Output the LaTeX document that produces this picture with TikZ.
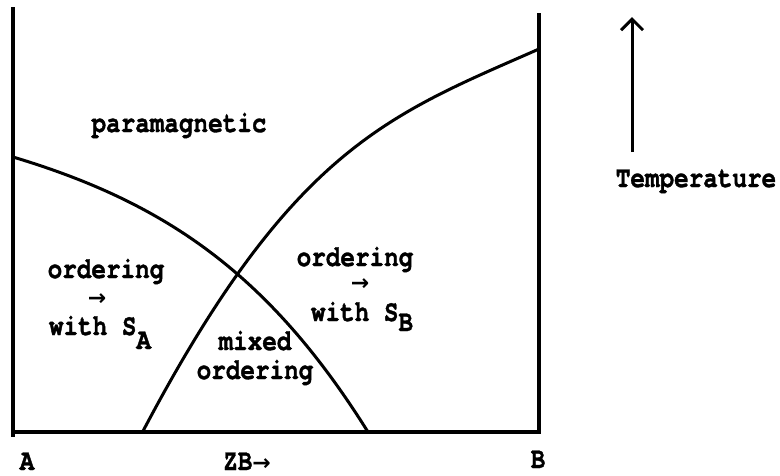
\documentclass[tikz,border=0pt]{standalone}
\usepackage{fontspec}
\newfontfamily\twfont{TeX Gyre Cursor}[FakeStretch=0.81,FakeBold=1.2]
\newfontfamily\arrfont{DejaVu Sans}
\usetikzlibrary{arrows.meta}
\begin{document}
\begin{tikzpicture}[x=1pt,y=-1pt,
  lbl/.style={inner sep=0pt, anchor=base, font=\twfont\bfseries\fontsize{30}{33}\selectfont},
  arr/.style={inner sep=0pt, font=\arrfont\bfseries\fontsize{22}{24}\selectfont},
  frame/.style={line width=3.5pt},
  curve/.style={line width=3pt},
  taxis/.style={line width=3pt, -{Straight Barb[length=11pt,width=22pt,line width=3pt]}}
]
\useasboundingbox (0,0) rectangle (780,475);
% frame
\coordinate (lt) at (13,7);
\coordinate (lb) at (13,437);
\coordinate (bl) at (13,432);
\coordinate (br) at (539,432);
\coordinate (rt) at (539,13);
\draw[frame] (lt) -- (lb);
\draw[frame] (bl) -- (br) -- (rt);
% phase boundaries
\draw[curve] (13,157) .. controls (163,202) and (268,272) .. (368,432);
\draw[curve] (142,433) .. controls (292,148) and (389,115) .. (539,49);
% labels
\node[lbl] (para) at (179,132) {paramagnetic};
\node[lbl] (ordA) at (106,278) {ordering};
\node[arr] (arrA) at (97,300) {→};
\node[lbl] (withA) at (100,335) {with S\raisebox{-14pt}{A}};
\node[lbl] (ordB) at (355,266) {ordering};
\node[arr] (arrB) at (360,285) {→};
\node[lbl] (withB) at (362,321) {with S\raisebox{-10pt}{B}};
\node[lbl, align=center, font=\twfont\bfseries\fontsize{30}{29}\selectfont] (mixed) at (255,379) {mixed\\ordering};
\node[lbl] (labA) at (27,470) {A};
\node[lbl] (labZB) at (247,470) {ZB{\arrfont\bfseries\fontsize{22}{24}\selectfont →}};
\node[lbl] (labB) at (538,468) {B};
\node[lbl] (temp) at (696,187) {Temperature};
% temperature arrow
\coordinate (tb) at (632,152);
\coordinate (tt) at (632,17);
\draw[taxis] (tb) -- (tt);
\end{tikzpicture}
\end{document}
